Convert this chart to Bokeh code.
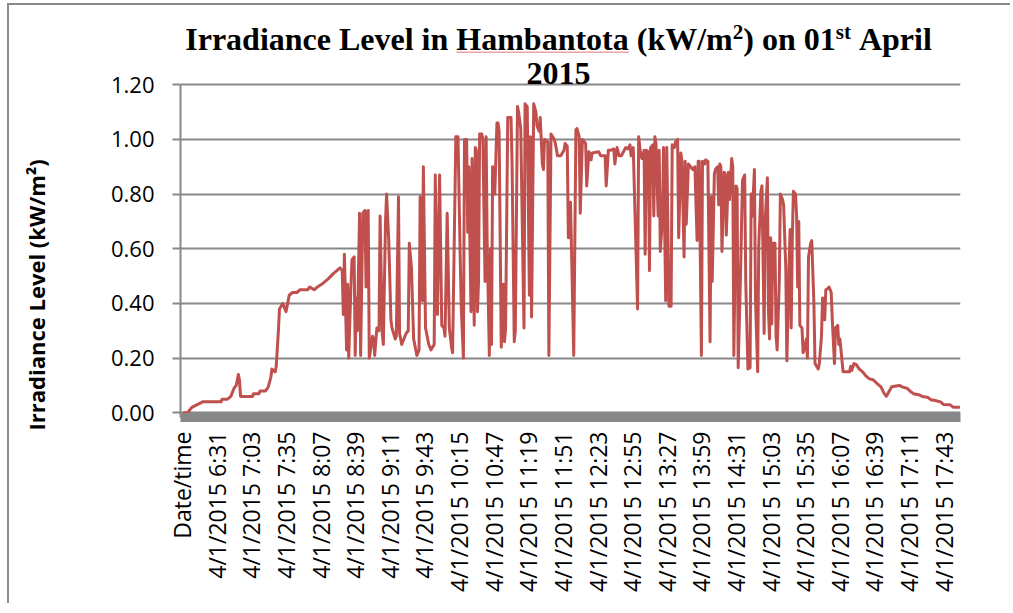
import math
from bokeh.plotting import figure
from bokeh.models import (ColumnDataSource, FixedTicker, NumeralTickFormatter, Range1d, Label, Title,
                          BoxAnnotation)
from bokeh.embed import file_html
from bokeh.resources import INLINE

# ---------------- data ----------------
title_main = "Irradiance Level in Hambantota (kW/m"
title_year = "2015"
y_label = "Irradiance Level (kW/m\u00b2)"

tick_labels = ["Date/time", "4/1/2015 6:31", "4/1/2015 7:03", "4/1/2015 7:35", "4/1/2015 8:07",
               "4/1/2015 8:39", "4/1/2015 9:11", "4/1/2015 9:43", "4/1/2015 10:15", "4/1/2015 10:47",
               "4/1/2015 11:19", "4/1/2015 11:51", "4/1/2015 12:23", "4/1/2015 12:55", "4/1/2015 13:27",
               "4/1/2015 13:59", "4/1/2015 14:31", "4/1/2015 15:03", "4/1/2015 15:35", "4/1/2015 16:07",
               "4/1/2015 16:39", "4/1/2015 17:11", "4/1/2015 17:43"]
y_ticks = [0.0, 0.2, 0.4, 0.6, 0.8, 1.0, 1.2]

times = [
    "6:00", "6:04", "6:08", "6:13", "6:18", "6:35", "6:36", "6:41", "6:44", "6:47", "6:49", "6:51", "6:52", "6:53",
    "7:04", "7:05", "7:10", "7:11", "7:16", "7:18", "7:19", "7:21", "7:22", "7:25", "7:26", "7:28", "7:29", "7:32", "7:35", "7:38", "7:41", "7:45", "7:48", "7:55", "7:57",
    "8:01", "8:04", "8:08", "8:11", "8:14", "8:19", "8:22", "8:25", "8:27", "8:28", "8:29", "8:31", "8:32", "8:33", "8:35", "8:36", "8:38", "8:39", "8:40", "8:41", "8:43", "8:44", "8:46", "8:48", "8:49", "8:50", "8:51", "8:52", "8:55", "8:56", "8:57", "8:59",
    "9:01", "9:02", "9:04", "9:05", "9:07", "9:08", "9:10", "9:12", "9:13", "9:16", "9:17", "9:19", "9:20", "9:22", "9:24", "9:26", "9:28", "9:29", "9:31", "9:33", "9:36", "9:38", "9:39", "9:41", "9:42", "9:44", "9:47", "9:49", "9:52", "9:53", "9:55", "9:57", "9:59",
    "10:01", "10:02", "10:04", "10:06", "10:08", "10:09", "10:12", "10:14", "10:16", "10:17", "10:19", "10:20", "10:22", "10:23", "10:24", "10:26", "10:27", "10:29", "10:30", "10:31", "10:32", "10:33", "10:34", "10:36", "10:37", "10:39", "10:40", "10:41", "10:43", "10:44", "10:45", "10:46", "10:48", "10:50", "10:51", "10:52", "10:54", "10:56", "10:57", "10:58",
    "11:00", "11:03", "11:04", "11:06", "11:07", "11:09", "11:10", "11:12", "11:15", "11:16", "11:18", "11:20", "11:21", "11:22", "11:24", "11:26", "11:27", "11:29", "11:30", "11:32", "11:33", "11:34", "11:37", "11:38", "11:40", "11:43", "11:44", "11:46", "11:49", "11:52", "11:53", "11:55", "11:56", "11:58",
    "12:01", "12:03", "12:04", "12:06", "12:07", "12:09", "12:12", "12:13", "12:15", "12:17", "12:18", "12:24", "12:26", "12:30", "12:31", "12:33", "12:35", "12:38", "12:39", "12:41", "12:43", "12:45", "12:47", "12:49", "12:51", "12:53", "12:54", "12:56",
    "13:00", "13:01", "13:03", "13:04", "13:06", "13:07", "13:08", "13:10", "13:11", "13:12", "13:14", "13:15", "13:16", "13:17", "13:19", "13:20", "13:21", "13:23", "13:24", "13:26", "13:27", "13:29", "13:31", "13:32", "13:34", "13:35", "13:37", "13:38", "13:40", "13:41", "13:43", "13:44", "13:45", "13:47", "13:49", "13:51", "13:53", "13:55", "13:56", "13:57", "13:59",
    "14:00", "14:02", "14:03", "14:05", "14:07", "14:08", "14:09", "14:11", "14:12", "14:14", "14:15", "14:16", "14:17", "14:18", "14:20", "14:21", "14:22", "14:24", "14:25", "14:27", "14:28", "14:29", "14:31", "14:32", "14:33", "14:35", "14:37", "14:39", "14:40", "14:42", "14:44", "14:45", "14:46", "14:48", "14:49", "14:51", "14:52", "14:54", "14:55", "14:57", "14:58",
    "15:00", "15:01", "15:02", "15:03", "15:04", "15:05", "15:07", "15:08", "15:09", "15:11", "15:12", "15:14", "15:15", "15:17", "15:18", "15:20", "15:21", "15:22", "15:23", "15:24", "15:26", "15:27", "15:28", "15:29", "15:30", "15:32", "15:33", "15:34", "15:36", "15:37", "15:38", "15:40", "15:41", "15:43", "15:44", "15:47", "15:48", "15:50", "15:51", "15:53", "15:54", "15:56", "15:57", "15:59",
    "16:00", "16:02", "16:03", "16:05", "16:06", "16:07", "16:10", "16:16", "16:17", "16:18", "16:20", "16:22", "16:25", "16:28", "16:31", "16:34", "16:38", "16:42", "16:45", "16:48", "16:50", "16:52", "16:55", "16:59",
    "17:02", "17:05", "17:09", "17:12", "17:15", "17:20", "17:23", "17:28", "17:31", "17:35", "17:40", "17:43", "17:49", "17:52", "17:58",
]

irradiance = [
    0.00, 0.00, 0.02, 0.03, 0.04, 0.04, 0.05, 0.05, 0.06, 0.09, 0.10, 0.14, 0.12, 0.06,
    0.06, 0.07, 0.07, 0.08, 0.08, 0.09, 0.10, 0.13, 0.16, 0.15, 0.17, 0.30, 0.38, 0.40, 0.37, 0.43, 0.44, 0.44, 0.45, 0.45, 0.46,
    0.45, 0.46, 0.47, 0.48, 0.49, 0.51, 0.52, 0.53, 0.52, 0.36, 0.58, 0.23, 0.47, 0.20, 0.46, 0.56, 0.57, 0.21, 0.42, 0.30, 0.73, 0.21, 0.73, 0.74, 0.46, 0.73, 0.74, 0.20, 0.28, 0.27, 0.21, 0.31,
    0.30, 0.72, 0.29, 0.25, 0.70, 0.80, 0.63, 0.34, 0.31, 0.27, 0.28, 0.79, 0.29, 0.25, 0.27, 0.29, 0.30, 0.62, 0.53, 0.27, 0.21, 0.23, 0.79, 0.41, 0.90, 0.31, 0.25, 0.23, 0.25, 0.87, 0.36, 0.87, 0.32,
    0.31, 0.28, 0.73, 0.31, 0.24, 0.22, 1.01, 1.01, 0.58, 0.39, 0.20, 1.00, 1.00, 0.66, 0.90, 0.37, 0.93, 0.32, 0.97, 0.96, 0.37, 0.48, 1.02, 1.02, 1.00, 0.48, 1.01, 0.61, 0.21, 0.60, 0.25, 0.90, 0.80, 1.06, 1.06, 1.03, 0.24, 0.47, 0.26, 0.31,
    1.08, 1.08, 0.91, 0.26, 0.30, 1.12, 1.10, 1.04, 0.31, 1.13, 1.12, 0.43, 1.01, 0.35, 1.13, 1.10, 1.05, 1.03, 1.08, 0.91, 0.89, 1.00, 0.99, 0.21, 1.02, 1.00, 0.985, 0.94, 0.94, 0.96, 0.985, 0.975, 0.64, 0.77,
    0.21, 1.035, 1.04, 1.01, 0.73, 1.00, 0.985, 0.83, 0.955, 0.925, 0.95, 0.955, 0.94, 0.94, 0.83, 0.96, 0.96, 0.965, 0.91, 0.97, 0.94, 0.94, 0.955, 0.97, 0.965, 0.98, 0.94, 0.97,
    0.38, 1.01, 0.94, 0.93, 0.96, 0.58, 0.96, 0.955, 0.52, 0.97, 0.98, 0.72, 1.01, 0.985, 0.72, 0.96, 0.59, 0.71, 0.97, 0.41, 0.97, 0.39, 0.39, 0.98, 0.97, 0.99, 1.00, 0.64, 0.95, 0.92, 0.57, 0.92, 0.69, 0.91, 0.90, 0.89, 0.90, 0.63, 0.92, 0.92, 0.21,
    0.92, 0.91, 0.925, 0.92, 0.26, 0.79, 0.48, 0.875, 0.89, 0.90, 0.76, 0.91, 0.90, 0.59, 0.88, 0.875, 0.65, 0.88, 0.78, 0.93, 0.90, 0.21, 0.83, 0.82, 0.165, 0.48, 0.85, 0.87, 0.48, 0.16, 0.165, 0.80, 0.72, 0.89, 0.42, 0.15, 0.61, 0.81, 0.83, 0.29, 0.70,
    0.86, 0.37, 0.27, 0.64, 0.325, 0.62, 0.62, 0.28, 0.23, 0.48, 0.80, 0.78, 0.76, 0.53, 0.19, 0.53, 0.67, 0.31, 0.63, 0.81, 0.80, 0.72, 0.46, 0.70, 0.32, 0.31, 0.22, 0.23, 0.27, 0.20, 0.57, 0.62, 0.63, 0.40, 0.18, 0.16, 0.18, 0.28, 0.42, 0.34, 0.45, 0.455, 0.46, 0.44,
    0.34, 0.18, 0.31, 0.32, 0.25, 0.27, 0.15, 0.15, 0.17, 0.155, 0.18, 0.177, 0.16, 0.15, 0.135, 0.125, 0.12, 0.105, 0.095, 0.07, 0.06, 0.075, 0.095, 0.098,
    0.10, 0.094, 0.09, 0.079, 0.07, 0.066, 0.06, 0.057, 0.048, 0.045, 0.04, 0.03, 0.029, 0.02, 0.02,
]
assert len(times) == len(irradiance)


def cat_index(t):
    # category position: 0 is the "Date/time" header row, 1 is 6:00
    h, m = t.split(":")
    return 1 + (int(h) - 6) * 60 + int(m)


x_vals = [cat_index(t) for t in times]
tick_pos = [0 if lab == "Date/time" else cat_index(lab.split()[1]) for lab in tick_labels]

# ---------------- layout (page pixel targets) ----------------
PAGE_X0, PAGE_Y0 = 9, 5          # canvas origin on the page (set through the figure margin)
W, H = 1003, 600
ML, MR, MT, MB = 171, 52, 0, 188
FRAME_L = PAGE_X0 + ML           # 180
FRAME_B = PAGE_Y0 + H - MB       # 417
PX_PER_UNIT = 273.4
ZERO_Y = 412.3                   # page y of value 0
y_lo = -(FRAME_B - ZERO_Y) / PX_PER_UNIT
y_hi = (ZERO_Y - (PAGE_Y0 + MT)) / PX_PER_UNIT

p = figure(width=W, height=H, output_backend="svg", toolbar_location=None,
           x_range=Range1d(-1.5, 719.5), y_range=Range1d(y_lo, y_hi),
           min_border_left=ML, min_border_right=MR, min_border_top=MT, min_border_bottom=MB)
p.margin = (PAGE_Y0, 0, 0, PAGE_X0)
p.styles = {"box-shadow": "-2px -2px 0 0 #8a8a8a"}
p.background_fill_color = "white"
p.border_fill_color = "white"
p.outline_line_color = None

src = ColumnDataSource(data=dict(x=x_vals, y=irradiance))
p.line(x="x", y="y", source=src, line_color="#C0504D", line_width=3, line_join="round")

# x axis
p.xaxis.ticker = FixedTicker(ticks=tick_pos)
p.xaxis.major_label_overrides = {tp: lab for tp, lab in zip(tick_pos, tick_labels)}
p.xaxis.major_label_orientation = math.pi / 2
p.xaxis.axis_line_color = "#888888"
p.xaxis.axis_line_width = 9
p.xaxis.major_tick_line_color = None
p.xaxis.minor_tick_line_color = None
p.xaxis.major_tick_out = 0
p.xaxis.major_tick_in = 0
p.xaxis.major_label_standoff = 14
p.xaxis.major_label_text_font = "Open Sans"
p.xaxis.major_label_text_font_size = "23px"
p.xaxis.major_label_text_color = "#000000"

# y axis
p.yaxis.ticker = FixedTicker(ticks=y_ticks)
p.yaxis.bounds = (y_lo, y_ticks[-1])
p.yaxis.formatter = NumeralTickFormatter(format="0.00")
p.yaxis.axis_line_color = "#888888"
p.yaxis.axis_line_width = 2
p.yaxis.major_tick_line_color = "#888888"
p.yaxis.major_tick_line_width = 2
p.yaxis.major_tick_out = 8
p.yaxis.major_tick_in = 0
p.yaxis.minor_tick_line_color = None
p.yaxis.major_label_standoff = 18
p.yaxis.major_label_text_font = "Open Sans"
p.yaxis.major_label_text_font_size = "22px"
p.yaxis.major_label_text_color = "#000000"

p.xgrid.visible = False
p.ygrid.grid_line_color = "#888888"
p.ygrid.grid_line_width = 2

# ---- y axis title (vertical, left panel); a blank spacer title keeps it away from the tick labels ----
p.add_layout(Title(text=" ", standoff=52, text_font_size="1px"), "left")
p.add_layout(Title(text=y_label, align="left", offset=FRAME_B - 430, standoff=4,
                   vertical_align="bottom",
                   text_font="Open Sans", text_font_style="bold", text_font_size="22px",
                   text_color="black"), "left")

# ---- chart title with superscripts (Times New Roman Bold metrics) ----
TB = {" ": 250, "(": 333, ")": 333, "/": 278, "0": 500, "1": 500, "2": 500, "5": 500,
      "A": 722, "H": 778, "I": 389, "L": 667, "W": 1000, "a": 500, "b": 556, "c": 444,
      "d": 556, "e": 444, "i": 278, "k": 556, "l": 278, "m": 833, "n": 556, "o": 500,
      "p": 556, "r": 444, "s": 389, "t": 333, "v": 500}
MID = 0.3375   # distance of the em-box middle above the baseline, in em (Liberation Serif)


def tw(s, size):
    return sum(TB.get(ch, 500) for ch in s) * size / 1000.0


def sx(px):
    return px - FRAME_L


def sy(py):
    return FRAME_B - py


FS, SFS, RAISE = 32, 21, 11
BASE1, BASE2 = 49.5, 84.0
# (text, superscript?, extra gap after in em of the main font)
segments = [(title_main, False, 0.0), ("2", True, 0.0), (") on 01", False, 0.0), ("st", True, 0.25),
            ("April", False, 0.0)]
total = sum(tw(s, SFS if sup else FS) + gap * FS for s, sup, gap in segments)
cx = 558
x_start = cx - total / 2
xpos = x_start
for s, sup, gap in segments:
    size = SFS if sup else FS
    base = BASE1 - (RAISE if sup else 0)
    p.add_layout(Label(x=sx(xpos), y=sy(base - MID * size), x_units="screen", y_units="screen",
                       text=s, text_font="Liberation Serif", text_font_style="bold",
                       text_font_size=f"{size}px", text_color="black",
                       text_align="left", text_baseline="middle"))
    xpos += tw(s, size) + gap * FS

p.add_layout(Label(x=sx(cx), y=sy(BASE2 - MID * FS), x_units="screen", y_units="screen", text=title_year,
                   text_font="Liberation Serif", text_font_style="bold", text_font_size=f"{FS}px",
                   text_color="black", text_align="center", text_baseline="middle"))

# spell-check style underline beneath the place name
word = "Hambantota"
u_left = x_start + tw(title_main[:title_main.index(word)], FS)
u_right = u_left + tw(word, FS)
p.add_layout(BoxAnnotation(left=sx(u_left), right=sx(u_right), top=sy(BASE1 + 1.5), bottom=sy(BASE1 + 3.0),
                           left_units="screen", right_units="screen", top_units="screen", bottom_units="screen",
                           fill_color="#e05a5a", fill_alpha=0.55, line_color=None))

open("out.html", "w").write(file_html(p, INLINE))
